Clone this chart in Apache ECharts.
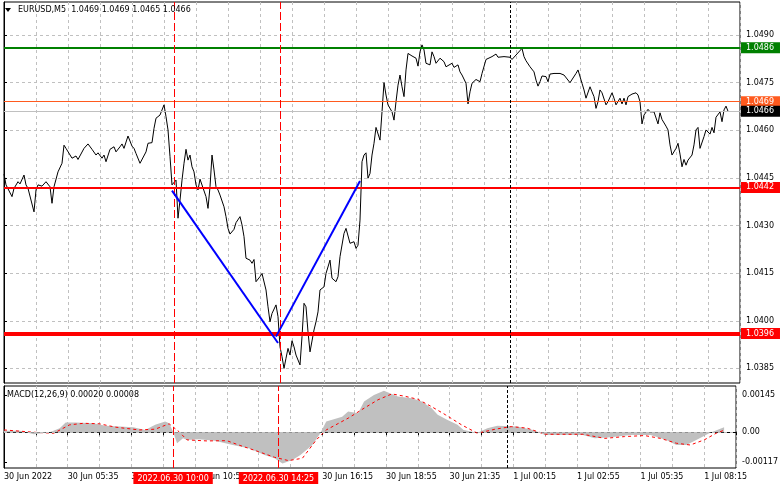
<!DOCTYPE html>
<html><head><meta charset="utf-8">
<script src="https://cdn.jsdelivr.net/npm/echarts@6/dist/echarts.min.js"></script>
<style>html,body{margin:0;padding:0;background:#fff}#c{width:781px;height:489px}</style>
</head><body><div id="c"></div>
<script>
// ---- data ----
const symbolName = 'EURUSD,M5';
const headerOHLC = [1.0469, 1.0469, 1.0465, 1.0466];
const macdHeader = [0.00020, 0.00008];

const barIndex = [0,1,2,4,5,6,7,8,10,11,12,15,16,17,19,21,23,24,25,26,27,29,30,31,32,34,36,37,38,40,42,44,46,47,49,50,51,53,55,56,58,59,60,62,64,65,66,68,69,71,72,74,75,76,78,80,81,82,83,84,85,86,87,88,89,90,91,92,93,94,95,96,97,98,99,101,102,103,104,105,106,107,108,110,111,112,113,115,116,118,119,120,121,123,124,125,126,128,129,131,132,133,134,136,137,138,139,140,141,142,143,144,145,146,148,149,150,151,152,153,155,156,157,158,160,161,163,164,166,167,168,170,171,172,173,175,176,177,178,179,180,181,182,183,184,185,186,187,188,189,190,191,192,194,195,196,197,198,199,200,201,202,203,204,206,207,208,209,210,211,213,214,215,216,217,218,220,221,222,224,225,226,227,228,229,231,232,233,234,235,236,238,239,241,242,244,246,247,248,250,251,253,254,256,257,259,260,261,263,265,266,267,268,269,271,272,273,275,276,278,280,281,283,286,287,289,290,291,293,294,295,296,297,298,299,300,301,302,304,305,306,308,309,310,311,312,314,316,317,318,319,320,322,323,325,327,328,329,331,332,333,334,336,337,338,339,340,341,342,344,345,346,347,348,349,350,351,353,354,355,356,358,359,360,361,362];
const closePrice = [1.04462,1.04428,1.04422,1.04391,1.04417,1.04412,1.04438,1.04431,1.04459,1.04428,1.04417,1.04343,1.04412,1.04428,1.04424,1.04438,1.04422,1.0437,1.04422,1.04422,1.04469,1.04496,1.04553,1.04543,1.04548,1.04512,1.04519,1.04508,1.04512,1.04543,1.04557,1.0454,1.04522,1.04529,1.04512,1.04522,1.04501,1.0454,1.04548,1.04532,1.04548,1.04557,1.04543,1.04582,1.0455,1.04543,1.04527,1.04496,1.0449,1.04532,1.04559,1.04561,1.04606,1.04638,1.04648,1.0468,1.04643,1.04601,1.04517,1.04428,1.04433,1.04443,1.04323,1.0438,1.04443,1.04496,1.0454,1.04506,1.04522,1.04485,1.04469,1.04428,1.04412,1.04446,1.04449,1.04391,1.04354,1.04422,1.04522,1.04475,1.04422,1.04412,1.04396,1.04359,1.04328,1.04291,1.04273,1.04288,1.04309,1.04328,1.04302,1.04265,1.04197,1.04191,1.04181,1.04193,1.04123,1.04139,1.04149,1.04097,1.04044,1.03997,1.04023,1.0405,1.04013,1.03918,1.03887,1.0385,1.03882,1.03913,1.03892,1.03937,1.03918,1.03892,1.03861,1.0395,1.04055,1.04044,1.03965,1.03902,1.03971,1.03997,1.04028,1.04097,1.04107,1.04149,1.04191,1.04134,1.04123,1.04139,1.04202,1.04275,1.04291,1.04286,1.04244,1.04249,1.04228,1.04238,1.04317,1.04501,1.04522,1.04529,1.04449,1.04464,1.04522,1.04559,1.04609,1.04606,1.04569,1.04658,1.0475,1.04711,1.0468,1.04658,1.04632,1.0469,1.04742,1.04774,1.04737,1.04706,1.0479,1.04842,1.04847,1.04834,1.04827,1.04802,1.04847,1.04869,1.04853,1.04811,1.04806,1.04847,1.04832,1.04811,1.04806,1.04827,1.04816,1.048,1.04795,1.04811,1.04798,1.04792,1.04806,1.04784,1.04774,1.04748,1.04683,1.04721,1.04748,1.04748,1.0476,1.04753,1.04779,1.04823,1.04827,1.04832,1.0484,1.0483,1.04832,1.04832,1.04837,1.0483,1.04823,1.04837,1.04842,1.04858,1.04832,1.04819,1.048,1.04784,1.04758,1.04739,1.04753,1.04771,1.04769,1.04753,1.04777,1.04779,1.04774,1.04779,1.04774,1.04776,1.0475,1.04779,1.0479,1.04748,1.04727,1.04701,1.04737,1.04721,1.04706,1.04669,1.0469,1.04727,1.04718,1.04721,1.0468,1.0469,1.04718,1.04701,1.0468,1.04701,1.04683,1.04701,1.0468,1.04706,1.04714,1.04718,1.04711,1.0469,1.0462,1.04648,1.04666,1.04658,1.04658,1.0462,1.04655,1.04634,1.04613,1.04601,1.04554,1.04522,1.04543,1.04559,1.04525,1.04485,1.04508,1.0449,1.04506,1.04522,1.04554,1.04601,1.04609,1.04543,1.0454,1.0458,1.04601,1.04588,1.04609,1.04592,1.04641,1.04658,1.04627,1.04664,1.04676,1.0466];

const macdBars = [0,8,15,23,28,31,36,45,51,65,71,76,81,83,85,87,90,92,98,106,115,123,131,136,140,145,149,155,159,162,170,173,178,181,186,191,198,205,210,215,218,223,228,231,238,243,248,258,266,272,281,291,297,305,315,325,333,338,343,348,355,362];
const macdValues = [0.00006,0.00006,-0.00008,0,0.00016,0.00038,0.00038,0.00035,0.00025,0.0002,0.00009,0.00029,0.00042,0.00035,0.00002,-0.00043,-0.00024,-0.0003,-0.00027,-0.00033,-0.0005,-0.00063,-0.00089,-0.00102,-0.00122,-0.00109,-0.00089,-0.0005,-0.00004,0.00042,0.00061,0.00081,0.00074,0.0012,0.00146,0.00162,0.0014,0.00133,0.0012,0.00094,0.00068,0.00048,0.00029,0.00009,-0.00002,0.00016,0.00025,0.00022,0.00009,-0.00011,-0.00011,-0.00011,-0.00024,-0.0002,-0.00011,-0.00011,-0.0003,-0.0005,-0.0005,-0.0003,-0.00002,0.0002];
const signalBars = [0,15,25,33,40,48,56,68,76,83,88,92,102,112,118,128,136,143,150,157,162,173,181,188,195,202,208,215,222,230,238,247,255,263,272,281,291,302,312,322,330,338,345,352,358,362];
const signalValues = [0.00009,0,-0.00004,0.00029,0.00035,0.00033,0.0002,0.00009,0.00012,0.00033,0.00002,-0.0003,-0.00034,-0.00033,-0.0005,-0.00076,-0.00098,-0.00111,-0.00102,-0.0003,0.00009,0.00055,0.00094,0.00127,0.0015,0.0014,0.00129,0.001,0.00068,0.00029,-0.00004,0.00012,0.00022,0.00016,-0.00008,-0.00008,-0.00008,-0.00024,-0.00017,-0.00013,-0.00024,-0.00043,-0.0005,-0.0003,-0.00004,0.00008];

const timeTickBars = [0,32,64,96,128,160,192,224,256,288,320,352];
const timeTickLabels = ['30 Jun 2022','30 Jun 05:35','30 Jun 08:15','30 Jun 10:55','30 Jun 13:35','30 Jun 16:15','30 Jun 18:55','30 Jun 21:35','1 Jul 00:15','1 Jul 02:55','1 Jul 05:35','1 Jul 08:15'];
const priceTicks = [1.0385,1.0400,1.0415,1.0430,1.0445,1.0460,1.0475,1.0490];
const macdTicks = [0.00145, 0, -0.00117];

const levelValues = [1.0486, 1.0469, 1.0466, 1.0442, 1.0396];
const eventBars = [85, 138];
const eventLabels = ['2022.06.30 10:00', '2022.06.30 14:25'];
const daySeparatorBar = 253;
const patternLeftBars = [84, 137];
const patternLeftPrices = [1.0441, 1.0393];
const patternRightBars = [136, 178];
const patternRightPrices = [1.0395, 1.0444];

// ---- styles ----
const FONT = 'DejaVu Sans';
const levelColors = ['#008000', '#ff5a1e', '#c0c0c0', '#ff0000', '#ff0000'];
const levelWidths = [2, 1, 1, 2, 4];
const levelLabelBg = ['#008000', '#ff5a1e', '#000000', '#ff0000', '#ff0000'];
const gridLine = {show: true, lineStyle: {color: '#c0c0c0', type: [3, 3], width: 1}};

const zip = (a, b) => a.map((x, i) => [x, b[i]]);

const levelMarks = levelValues.map((v, i) => ({
  yAxis: v,
  lineStyle: {color: levelColors[i], width: levelWidths[i], type: 'solid'},
  label: {show: true, position: 'end', distance: 1, formatter: v.toFixed(4),
    backgroundColor: levelLabelBg[i], color: '#fff', padding: [1, 6, 1, 5],
    fontFamily: FONT, fontSize: 8, lineHeight: 9}
}));
const vMarks = (withLabel) => eventBars.map((b, i) => ({
  xAxis: b,
  lineStyle: {color: '#ff0000', width: 1, type: [8, 3]},
  label: withLabel ? {show: true, position: 'start', distance: 4, formatter: eventLabels[i],
    backgroundColor: '#ff0000', color: '#fff', padding: [2, 4, 1, 4],
    fontFamily: FONT, fontSize: 8, lineHeight: 9} : {show: false}
})).concat([{
  xAxis: daySeparatorBar,
  lineStyle: {color: '#000', width: 1, type: [3, 2]},
  label: {show: false}
}]);

const chart = echarts.init(document.getElementById('c'), null, {renderer: 'canvas'});
chart.setOption({
  animation: false,
  backgroundColor: '#fff',
  grid: [
    {left: 4, right: 41, top: 2, height: 381, show: true, borderColor: '#000', borderWidth: 1},
    {left: 4, right: 41, top: 386, height: 82, show: true, borderColor: '#000', borderWidth: 1}
  ],
  xAxis: [
    {gridIndex: 0, type: 'value', min: 0, max: 368, interval: 16,
      axisLine: {show: false}, axisTick: {show: false}, axisLabel: {show: false}, splitLine: gridLine},
    {gridIndex: 1, type: 'value', min: 0, max: 368, interval: 16,
      axisLine: {show: true, lineStyle: {color: '#000'}},
      axisTick: {show: true, length: 3, lineStyle: {color: '#000'}},
      axisLabel: {customValues: timeTickBars, formatter: v => timeTickLabels[timeTickBars.indexOf(v)] || '',
        align: 'left', margin: 5, fontFamily: FONT, fontSize: 8, color: '#000'},
      splitLine: gridLine}
  ],
  yAxis: [
    {gridIndex: 0, type: 'value', position: 'right', min: 1.03804, max: 1.05004, scale: true,
      axisLine: {show: true, lineStyle: {color: '#000'}},
      axisTick: {show: true, length: 3, customValues: priceTicks, lineStyle: {color: '#000'}},
      axisLabel: {customValues: priceTicks, formatter: v => v.toFixed(4), margin: 6,
        fontFamily: FONT, fontSize: 8, color: '#000'},
      splitLine: gridLine},
    {gridIndex: 1, type: 'value', position: 'right', min: -0.0014, max: 0.00181,
      axisLine: {show: true, lineStyle: {color: '#000'}},
      axisTick: {show: true, length: 3, customValues: macdTicks, lineStyle: {color: '#000'}},
      axisLabel: {customValues: macdTicks, formatter: v => (v === 0 ? '0.00' : v.toFixed(5)), margin: 6,
        fontFamily: FONT, fontSize: 8, color: '#000'},
      splitLine: {show: false}}
  ],
  series: [
    {type: 'line', name: 'close', xAxisIndex: 0, yAxisIndex: 0, data: zip(barIndex, closePrice),
      showSymbol: false, symbol: 'none', lineStyle: {color: '#000', width: 1}, z: 3,
      markLine: {silent: true, symbol: 'none', animation: false, precision: 6,
        data: levelMarks.concat(vMarks(false))}},
    {type: 'line', xAxisIndex: 0, yAxisIndex: 0, data: zip(patternLeftBars, patternLeftPrices),
      showSymbol: false, symbol: 'none', lineStyle: {color: '#0000ff', width: 2}, z: 5},
    {type: 'line', xAxisIndex: 0, yAxisIndex: 0, data: zip(patternRightBars, patternRightPrices),
      showSymbol: false, symbol: 'none', lineStyle: {color: '#0000ff', width: 2}, z: 5},
    {type: 'line', xAxisIndex: 1, yAxisIndex: 1, data: [], z: 1,
      markLine: {silent: true, symbol: 'none', animation: false, precision: 6,
        data: [{yAxis: 0, lineStyle: {color: '#c0c0c0', type: [3, 3], width: 1}, label: {show: false}}]}},
    {type: 'line', name: 'MACD', xAxisIndex: 1, yAxisIndex: 1, data: zip(macdBars, macdValues),
      showSymbol: false, symbol: 'none', lineStyle: {width: 0, color: '#c0c0c0'},
      areaStyle: {color: '#c0c0c0', opacity: 1}, z: 2},
    {type: 'line', name: 'Signal', xAxisIndex: 1, yAxisIndex: 1, data: zip(signalBars, signalValues),
      showSymbol: false, symbol: 'none', lineStyle: {color: '#ff0000', width: 1, type: [3, 3]}, z: 4,
      markLine: {silent: true, symbol: 'none', animation: false, precision: 6, data: vMarks(true)}}
  ],
  graphic: [
    {type: 'polygon', shape: {points: [[5, 8], [11, 8], [8, 12]]}, style: {fill: '#000'}, z: 100},
    {type: 'text', x: 18, y: 10, z: 100,
      style: {text: symbolName + '  ' + headerOHLC.map(v => v.toFixed(4)).join(' '),
        fill: '#000', font: '8px "DejaVu Sans"', verticalAlign: 'middle'}},
    {type: 'text', x: 7, y: 395, z: 100,
      style: {text: 'MACD(12,26,9) ' + macdHeader.map(v => v.toFixed(5)).join(' '),
        fill: '#000', font: '8px "DejaVu Sans"', verticalAlign: 'middle'}}
  ]
});
</script>
</body></html>
